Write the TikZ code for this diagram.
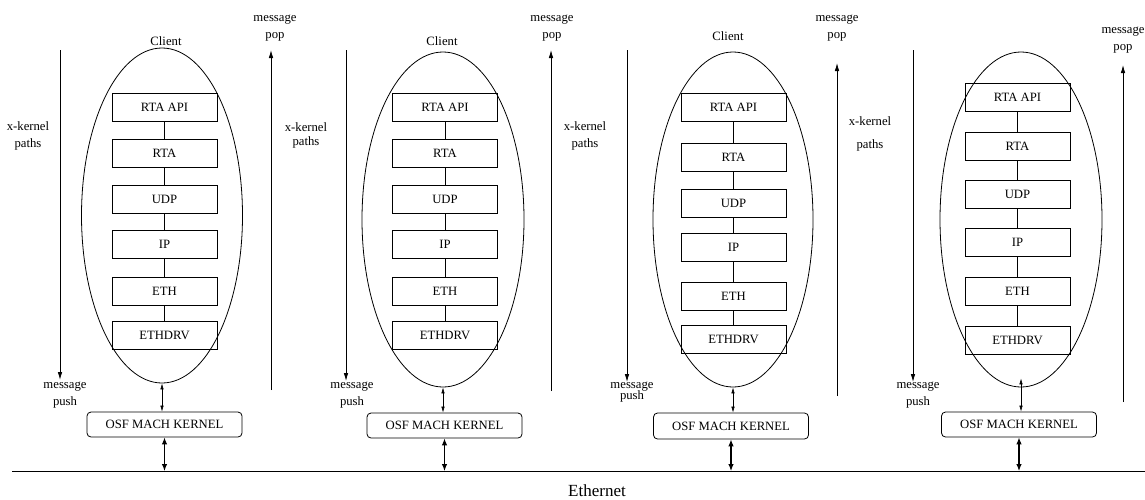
\documentclass[tikz,border=0pt]{standalone}
\usepackage{fontspec}
\setmainfont{Liberation Serif}
\newfontfamily\timesfont{Liberation Serif}
\usetikzlibrary{arrows.meta}
\usetikzlibrary{shapes.geometric}

\begin{document}
\begin{tikzpicture}[x=1pt,y=-1pt,line width=0.8pt,>={Latex[length=8pt,width=4.5pt]},
  font=\timesfont\fontsize{12.7}{17}\selectfont,
  layer/.style={draw,minimum width=105pt,minimum height=28pt,inner sep=0pt},
  osf/.style={draw,rounded corners=4pt,minimum width=155pt,minimum height=25pt,inner sep=0pt},
  client/.style={draw,ellipse,inner sep=0pt,minimum width=161pt,minimum height=335pt},
  lbl/.style={align=center,inner sep=0pt},
  thin2/.style={{Latex[length=6pt,width=3.5pt]}-{Latex[length=6pt,width=3.5pt]},line width=0.6pt},
  thick2/.style={{Latex[length=7pt,width=5.5pt]}-{Latex[length=7pt,width=5.5pt]},line width=1.1pt}]
\useasboundingbox (0,0) rectangle (1145,499);

% ethernet
\coordinate (e0) at (12,471);
\coordinate (e1) at (1145,471);
\draw (e0) -- (e1);
\node[lbl,font=\timesfont\fontsize{17}{20}\selectfont] (eth) at (597,491) {Ethernet};

% column 1
\node[client] (cl1) at (162,215.5) {};
\node[lbl] (c1) at (166,41) {Client};
\node[layer] (api1) at (164.5,107) {RTA API};
\node[layer] (rta1) at (164.5,153) {RTA};
\node[layer] (udp1) at (164.5,199) {UDP};
\node[layer] (ip1) at (164.5,244) {IP};
\node[layer] (eth1) at (164.5,291) {ETH};
\node[layer] (drv1) at (164.5,335) {ETHDRV};
\node[osf] (osf1) at (164.5,424.5) {OSF MACH KERNEL};
\draw (api1) -- (rta1) -- (udp1) -- (ip1) -- (eth1) -- (drv1);
\draw[thin2] (cl1.south) -- (cl1.south |- osf1.north);
\draw[thick2] (osf1.south) -- (osf1.south |- e0);
\node[lbl] (xk1) at (28,136) {x-kernel\\paths};
\node[lbl] (push1) at (65,395) {message\\push};
\node[lbl] (pop1) at (275,28) {message\\pop};
\coordinate (d1) at (60,50);
\coordinate (p1) at (60,380);
\coordinate (u1) at (271,390);
\coordinate (t1) at (271,50);
\draw[->] (d1) -- (p1);
\draw[->] (u1) -- (t1);

% column 2
\node[client,minimum width=162pt] (cl2) at (443,219.5) {};
\node[lbl] (c2) at (442,41) {Client};
\node[layer] (api2) at (445,107) {RTA API};
\node[layer] (rta2) at (445,153) {RTA};
\node[layer] (udp2) at (445,199) {UDP};
\node[layer] (ip2) at (445,244) {IP};
\node[layer] (eth2) at (445,291) {ETH};
\node[layer] (drv2) at (445,335) {ETHDRV};
\node[osf] (osf2) at (444.5,425.5) {OSF MACH KERNEL};
\draw (api2) -- (rta2) -- (udp2) -- (ip2) -- (eth2) -- (drv2);
\draw[thin2] (cl2.south) -- (cl2.south |- osf2.north);
\draw[thick2] (osf2.south) -- (osf2.south |- e0);
\node[lbl] (xk2) at (306,135) {x-kernel\\[-3pt]paths};
\node[lbl] (push2) at (352,395) {message\\push};
\node[lbl] (pop2) at (552,28) {message\\pop};
\coordinate (d2) at (346,50);
\coordinate (p2) at (346,381);
\coordinate (u2) at (551,391);
\coordinate (t2) at (551,50);
\draw[->] (d2) -- (p2);
\draw[->] (u2) -- (t2);

% column 3
\node[client,minimum width=160pt] (cl3) at (733,219.5) {};
\node[lbl] (c3) at (728,36) {Client};
\node[layer] (api3) at (733.5,107) {RTA API};
\node[layer] (rta3) at (733.5,157) {RTA};
\node[layer] (udp3) at (733.5,203.5) {UDP};
\node[layer] (ip3) at (733.5,247) {IP};
\node[layer] (eth3) at (733.5,296) {ETH};
\node[layer] (drv3) at (733.5,339) {ETHDRV};
\node[osf,minimum height=26pt] (osf3) at (731,426) {OSF MACH KERNEL};
\draw (api3) -- (rta3) -- (udp3) -- (ip3) -- (eth3) -- (drv3);
\draw[thin2] (cl3.south) -- (cl3.south |- osf3.north);
\draw[thick2] (osf3.south) -- (osf3.south |- e0);
\node[lbl] (xk3) at (585,136) {x-kernel\\paths};
\node[lbl] (push3) at (632,392) {message\\[-6pt]push};
\node[lbl] (pop3) at (837,28) {message\\pop};
\coordinate (d3) at (627,50);
\coordinate (p3) at (627,382);
\coordinate (u3) at (837,396);
\coordinate (t3) at (837,63);
\draw[->] (d3) -- (p3);
\draw[->] (u3) -- (t3);

% column 4
\node[client,minimum width=162pt] (cl4) at (1021,219.5) {};
\node[layer] (api4) at (1017.5,97) {RTA API};
\node[layer] (rta4) at (1017.5,146) {RTA};
\node[layer] (udp4) at (1017.5,194) {UDP};
\node[layer] (ip4) at (1017.5,242.5) {IP};
\node[layer] (eth4) at (1017.5,291.5) {ETH};
\node[layer] (drv4) at (1017.5,340) {ETHDRV};
\node[osf] (osf4) at (1019,424.5) {OSF MACH KERNEL};
\draw (api4) -- (rta4) -- (udp4) -- (ip4) -- (eth4) -- (drv4);
\draw[thin2,shorten <=-9pt] (cl4.south) -- (cl4.south |- osf4.north);
\draw[thick2] (osf4.south) -- (osf4.south |- e0);
\node[lbl] (xk4) at (870,133.5) {x-kernel\\[6pt]paths};
\node[lbl] (push4) at (918,395) {message\\push};
\node[lbl] (pop4) at (1123,40) {message\\pop};
\coordinate (d4) at (913,50);
\coordinate (p4) at (913,382);
\coordinate (u4) at (1123,402);
\coordinate (t4) at (1123,65);
\draw[->] (d4) -- (p4);
\draw[->] (u4) -- (t4);
\end{tikzpicture}
\end{document}
